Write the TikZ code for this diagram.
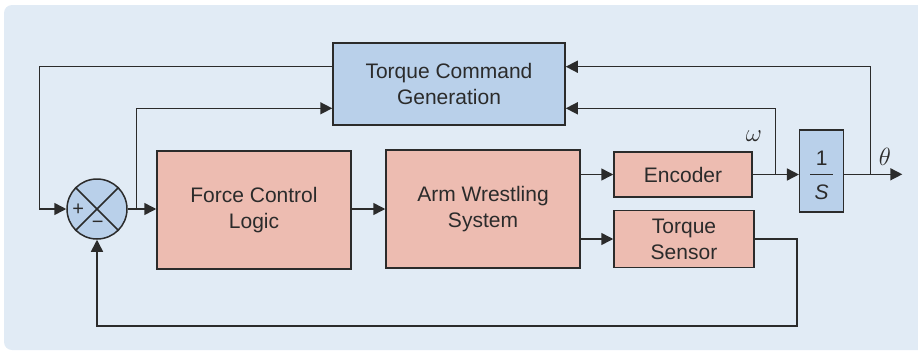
\documentclass[tikz,border=0pt]{standalone}
\usepackage{fontspec}
\setmainfont{Liberation Sans}
\usetikzlibrary{arrows.meta,calc}
\definecolor{bgc}{HTML}{E1EBF5}
\definecolor{pinkc}{HTML}{EDBCB1}
\definecolor{bluec}{HTML}{B9D0EA}
\definecolor{linec}{HTML}{2B2B2B}
\tikzset{
  blk/.style={draw=linec, line width=1.5pt, inner sep=0pt, align=center,
    font=\fontsize{21}{26}\selectfont, text=linec},
  pinkblk/.style={blk, fill=pinkc},
  blueblk/.style={blk, fill=bluec},
  wire/.style={draw=linec, line width=1.5pt},
  arr/.style={wire, -{Triangle[length=12pt,width=12pt]}},
  lbl/.style={font=\fontsize{21}{26}\selectfont, text=linec, inner sep=0pt},
}
\begin{document}
\begin{tikzpicture}[x=1pt,y=-1pt]
\useasboundingbox (0,0) rectangle (918,351);
\clip (0,0) rectangle (918,351);
\fill[bgc, rounded corners=8pt] (4,5) rectangle (940,350);

\node[blueblk, minimum width=232pt, minimum height=82pt] (tcg) at (449,84) {Torque Command\\Generation};
\node[pinkblk, minimum width=194pt, minimum height=118pt] (fcl) at (254,210) {Force Control\\Logic};
\node[pinkblk, minimum width=194pt, minimum height=118pt] (aws) at (483,209) {Arm Wrestling\\System};
\node[pinkblk, minimum width=138pt, minimum height=45pt] (enc) at (683,174.5) {Encoder};
\node[pinkblk, minimum width=140pt, minimum height=57pt] (ts) at (684,239) {Torque\\Sensor};
\node[blueblk, minimum width=44pt, minimum height=82pt] (int) at (821.7,171) {};
\node[lbl] (one) at (821.7,158) {1};
\node[lbl] (ess) at (821.7,192) {\textit{S}};
\draw[wire] (810,174.3) -- (833,174.3);

\node[circle, draw=linec, fill=bluec, line width=1.5pt, minimum size=60pt, inner sep=0pt] (sum) at (97,209) {};
\draw[wire] (sum.north west) -- (sum.south east);
\draw[wire] (sum.north east) -- (sum.south west);
\node[lbl, font=\fontsize{20}{24}\selectfont] (plus) at (78.3,209.5) {+};
\node[lbl, font=\fontsize{20}{24}\selectfont] (minus) at (97.7,225) {\textminus};

\coordinate (bl) at (136.7,209);
\coordinate (be) at (775.7,174.3);
\coordinate (bt) at (870.3,174.3);
\coordinate (out) at (902.3,174.3);

% forward path
\draw[arr] (sum.east) -- (fcl.west |- sum.east);
\draw[arr] (fcl.east |- aws.west) -- (aws.west);
\draw[arr] (aws.east |- enc.west) -- (enc.west);
\draw[arr] (aws.east |- ts.west) -- (ts.west);
\draw[arr] (enc.east) -- (enc.east -| int.west);
\draw[arr] (int.east |- out) -- (out);

% feedback paths
\draw[arr] (bt) -- (870.3,66.7) -- (tcg.east |- 0,66.7);
\draw[arr] (be) -- (775.7,108.3) -- (tcg.east |- 0,108.3);
\draw[arr] (bl) -- (136.7,108.3) -- (tcg.west |- 0,108.3);
\draw[arr] (tcg.west |- 0,66.7) -- (39.3,66.7) -- (39.3,209) -- (sum.west);
\draw[arr] (ts.east) -- (797,239) -- (797,326) -- (97,326) -- (sum.south);

\node[lbl, font=\fontsize{25}{30}\selectfont] (omega) at (754,136) {$\omega$};
\node[lbl, font=\fontsize{25}{30}\selectfont] (theta) at (885,157) {$\theta$};
\end{tikzpicture}
\end{document}
